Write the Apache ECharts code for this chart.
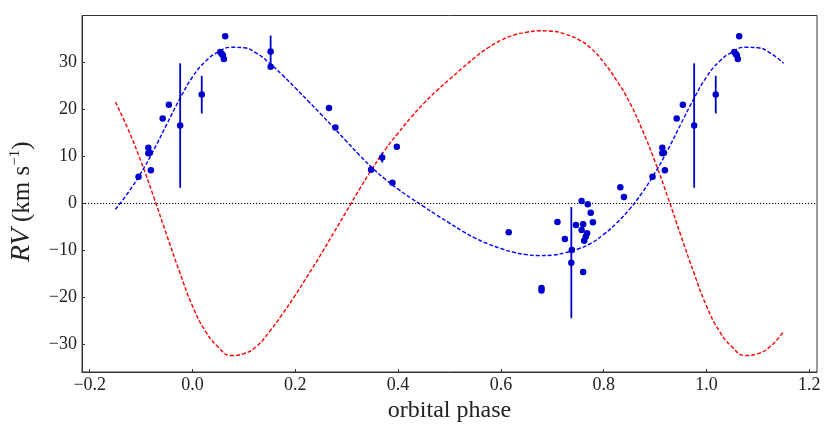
<!DOCTYPE html>
<html>
<head>
<meta charset="utf-8">
<script src="https://cdn.jsdelivr.net/npm/echarts@6/dist/echarts.min.js"></script>
<style>
html,body{margin:0;padding:0;background:#fff;}
#chart{width:830px;height:437px;}
</style>
</head>
<body>
<div id="chart"></div>
<script>
// ---- observed radial velocities (phase folded into [0,1)) ----
const obsPhase = [0.895,0.914,0.914,0.917,0.919,0.942,0.954,0.976,0.018,0.054,0.057,0.059,0.061,0.0636,0.152,0.152,0.2655,0.278,0.3474,0.369,0.3975,0.389,0.6152,0.679,0.679,0.71,0.7245,0.738,0.737,0.746,0.757,0.769,0.757,0.76,0.7677,0.765,0.762,0.76,0.7747,0.779,0.8324,0.8394];
const obsRV    = [5.65,11.8,10.6,10.7,7.0,18.0,20.9,16.5,23.06,32.1,31.7,31.4,30.6,35.45,32.2,29.0,20.2,16.1,7.13,9.7,12.0,4.37,-6.16,-18.0,-18.5,-3.97,-7.58,-9.9,-12.6,-4.6,0.49,-0.21,-5.67,-4.46,-6.37,-7.09,-7.94,-14.6,-1.99,-4.04,3.4,1.34];
const obsErr   = [0,0,0,0,0,0,0,13.2,4.0,0,0,0,0,0,3.4,0,0,0,0,1.05,0,0,0,0,0,0,0,0,11.8,0,0,0,0,0,0,0,0,0,0,0,0,0];

// ---- model curves (one orbital period) ----
const modelPhase = [0,0.025,0.05,0.075,0.1,0.125,0.15,0.175,0.2,0.225,0.25,0.275,0.3,0.325,0.35,0.375,0.4,0.425,0.45,0.475,0.5,0.525,0.55,0.575,0.6,0.625,0.65,0.675,0.7,0.725,0.75,0.775,0.8,0.825,0.85,0.875,0.9,0.925,0.95,0.975];
const modelBlue  = [26.8,30.1,32.1,33.1,33.0,31.8,29.7,27.2,24.5,21.7,18.9,16.0,13.1,10.2,7.5,5.1,3.0,1.1,-0.7,-2.5,-4.2,-5.9,-7.4,-8.6,-9.6,-10.4,-10.9,-11.1,-11.0,-10.5,-9.7,-8.5,-6.6,-4.2,-1.3,2.3,6.5,11.4,16.8,22.1];
const modelRed   = [-21.8,-27.1,-30.5,-32.3,-31.9,-30.3,-27.2,-23.5,-19.5,-15.2,-10.8,-6.2,-1.6,3.0,7.4,11.4,14.9,18.2,21.2,23.9,26.3,28.7,31.0,33.0,34.6,35.7,36.3,36.6,36.5,35.9,34.8,32.9,29.9,26.1,21.5,15.6,8.8,1.2,-6.8,-14.6];

// ---- axes ----
const xTicks = [-0.2,0,0.2,0.4,0.6,0.8,1.0,1.2];
const yTicks = [-30,-20,-10,0,10,20,30];
const phaseShown = [-0.15, 1.15];

const FONT = 'Liberation Serif';
const minus = s => String(s).replace('-', '\u2212');
const inWin = p => p >= phaseShown[0] - 1e-9 && p <= phaseShown[1] + 1e-9;

// repeat points/curves that fall in the plotted phase window
const pts = [], bars = [], blueLine = [], redLine = [];
for (const shift of [-1, 0, 1]) {
  for (let i = 0; i < obsPhase.length; i++) {
    const p = obsPhase[i] + shift;
    if (!inWin(p)) continue;
    pts.push([p, obsRV[i]]);
    if (obsErr[i] > 0) bars.push([p, obsRV[i] - obsErr[i], obsRV[i] + obsErr[i]]);
  }
  for (let i = 0; i < modelPhase.length; i++) {
    const p = +(modelPhase[i] + shift).toFixed(4);
    if (!inWin(p)) continue;
    blueLine.push([p, modelBlue[i]]);
    redLine.push([p, modelRed[i]]);
  }
}

const chart = echarts.init(document.getElementById('chart'), null, {renderer: 'canvas'});
chart.setOption({
  animation: false,
  backgroundColor: '#ffffff',
  grid: {left: 67, right: 13, top: 15.5, bottom: 65, show: true, borderColor: '#333', borderWidth: 1, backgroundColor: 'transparent'},
  xAxis: {
    type: 'value', min: -0.215, max: 1.215,
    axisLine: {show: true, onZero: false, lineStyle: {color: '#333', width: 1}},
    axisTick: {show: true, inside: true, length: 3, customValues: xTicks, lineStyle: {color: '#333'}},
    splitLine: {show: false},
    axisLabel: {customValues: xTicks, margin: 4, color: '#222', fontFamily: FONT, fontSize: 18,
      formatter: v => minus(Number(v).toFixed(1))},
    name: 'orbital phase', nameLocation: 'middle', nameGap: 14,
    nameTextStyle: {fontFamily: FONT, fontSize: 24, color: '#222'}
  },
  yAxis: {
    type: 'value', min: -35.8, max: 39.85,
    axisLine: {show: true, onZero: false, lineStyle: {color: '#333', width: 1}},
    axisTick: {show: true, inside: true, length: 3, customValues: yTicks, lineStyle: {color: '#333'}},
    splitLine: {show: false},
    axisLabel: {customValues: yTicks, margin: 5, color: '#222', fontFamily: FONT, fontSize: 18,
      formatter: v => minus(Math.round(v))},
    name: '{i|RV} (km s{s|\u22121})', nameLocation: 'middle', nameGap: 46, nameRotate: 90,
    nameTextStyle: {fontFamily: FONT, fontSize: 25, color: '#222', padding: [0, 16, 0, 0],
      rich: {
        i: {fontFamily: FONT, fontStyle: 'italic', fontSize: 28, color: '#222'},
        s: {fontFamily: FONT, fontSize: 15, color: '#222', verticalAlign: 'top', padding: [0, 0, 11, 0]}
      }}
  },
  series: [
    {
      type: 'line', data: [], silent: true,
      markLine: {silent: true, symbol: 'none', label: {show: false},
        lineStyle: {color: '#000', type: [1.2, 1.8], width: 1.2},
        data: [{yAxis: 0}]}
    },
    {
      type: 'line', data: redLine, smooth: true, showSymbol: false, symbol: 'none', z: 3,
      lineStyle: {color: '#ff0000', width: 1.4, type: [4, 2]}
    },
    {
      type: 'line', data: blueLine, smooth: true, showSymbol: false, symbol: 'none', z: 3,
      lineStyle: {color: '#0000ff', width: 1.4, type: [4, 2]}
    },
    {
      type: 'custom', data: bars, z: 4,
      encode: {x: 0, y: [1, 2]},
      renderItem: (params, api) => {
        const a = api.coord([api.value(0), api.value(1)]);
        const b = api.coord([api.value(0), api.value(2)]);
        return {type: 'line', shape: {x1: a[0], y1: a[1], x2: b[0], y2: b[1]},
          style: {stroke: '#0000cd', lineWidth: 1.8}};
      }
    },
    {
      type: 'scatter', data: pts, symbol: 'circle', symbolSize: 6.5, z: 5,
      itemStyle: {color: '#0000cd', opacity: 1}
    }
  ]
});
</script>
</body>
</html>
